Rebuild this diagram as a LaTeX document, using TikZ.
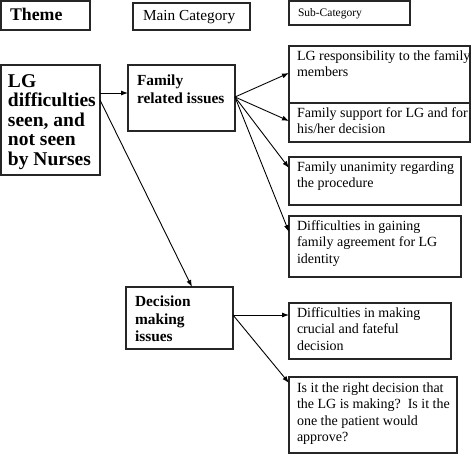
\documentclass[tikz,border=0pt]{standalone}
\usepackage{fontspec}
\setmainfont{Liberation Serif}
\usetikzlibrary{arrows.meta}
\newcommand\fsz[2]{\fontsize{#1}{#2}\selectfont}
\tikzset{
  box/.style={draw=black!85, line width=1.2pt, inner sep=0pt, outer sep=0pt, anchor=north west},
  txt/.style={inner sep=0pt, outer sep=0pt, anchor=north west, align=left, execute at begin node=\strut},
  subtxt/.style={txt, font=\fsz{14}{16.5}, yshift=11.55pt},
  catbf/.style={txt, font=\fsz{15.4}{17.8}\bfseries, yshift=12.46pt},
  themebf/.style={txt, font=\fsz{17.8}{20.4}\bfseries, yshift=14.28pt},
  themebody/.style={txt, font=\fsz{19.5}{19.6}\bfseries, yshift=13.72pt},
  maintxt/.style={txt, font=\fsz{15.3}{17.6}, yshift=12.32pt},
  subhead/.style={txt, font=\fsz{11.5}{13.2}, yshift=9.24pt},
  arr/.style={draw=black, line width=0.9pt, -{Latex[length=7pt,width=5pt]}},
}
\begin{document}
\begin{tikzpicture}[x=1pt, y=-1pt]
\useasboundingbox (0,0) rectangle (473,454);
% headers
\node[box, minimum width=89pt, minimum height=29pt] (hthm) at (1,1) {};
\node[themebf] (hthmt) at (10,21) {Theme};
\node[box, minimum width=117pt, minimum height=27pt] (hmain) at (133,3) {};
\node[maintxt] (hmaint) at (143,21) {Main Category};
\node[box, minimum width=121pt, minimum height=24pt] (hsub) at (289,1) {};
\node[subhead] (hsubt) at (298,17) {Sub-Category};
% theme
\node[box, minimum width=99pt, minimum height=110pt] (thm) at (1,65) {};
\node[themebody] (thmt) at (8,88) {LG\\difficulties\\seen, and\\not seen\\by Nurses};
% main categories
\node[box, minimum width=107pt, minimum height=66pt] (fam) at (128,65) {};
\node[catbf] (famt) at (137,87) {Family\\related issues};
\node[box, minimum width=107pt, minimum height=62pt] (dec) at (126,287) {};
\node[catbf] (dect) at (135,308) {Decision\\making\\issues};
% sub categories
\node[box, minimum width=181pt, minimum height=57pt] (b1) at (289,46) {};
\node[subtxt] (b1t) at (297,62) {LG responsibility to the family\\members};
\node[box, minimum width=181pt, minimum height=39pt] (b2) at (289,103) {};
\node[subtxt] (b2t) at (297,119) {Family support for LG and for\\his/her decision};
\node[box, minimum width=172pt, minimum height=48pt] (b3) at (289,157) {};
\node[subtxt] (b3t) at (297,173) {Family unanimity regarding\\the procedure};
\node[box, minimum width=172pt, minimum height=61pt] (b4) at (289,216) {};
\node[subtxt] (b4t) at (297,232) {Difficulties in gaining\\family agreement for LG\\identity};
\node[box, minimum width=162pt, minimum height=56pt] (b5) at (289,303) {};
\node[subtxt] (b5t) at (297,319) {Difficulties in making\\crucial and fateful\\decision};
\node[box, minimum width=168pt, minimum height=76pt] (b6) at (289,377) {};
\node[subtxt] (b6t) at (297,394) {Is it the right decision that\\the LG is making?\ \ Is it the\\one the patient would\\approve?};
% connectors
\coordinate (fs) at (fam.north east |- 0,97);
\coordinate (ds) at (dec.north east |- 0,315);
\draw[arr] (thm.north east |- 0,93) -- (fam.north west |- 0,93);
\draw[arr] (thm.north east |- 0,100) -- (dec.north west -| 192,0);
\draw[arr] (fs) -- (b1.north west |- 0,73);
\draw[arr] (fs) -- (b2.north west |- 0,121);
\draw[arr] (fs) -- (b3.north west |- 0,168);
\draw[arr] (fs) -- (b4.north west |- 0,232);
\draw[arr] (ds) -- (b5.north west |- 0,315);
\draw[arr] (ds) -- (b6.north west |- 0,383);
\end{tikzpicture}
\end{document}
